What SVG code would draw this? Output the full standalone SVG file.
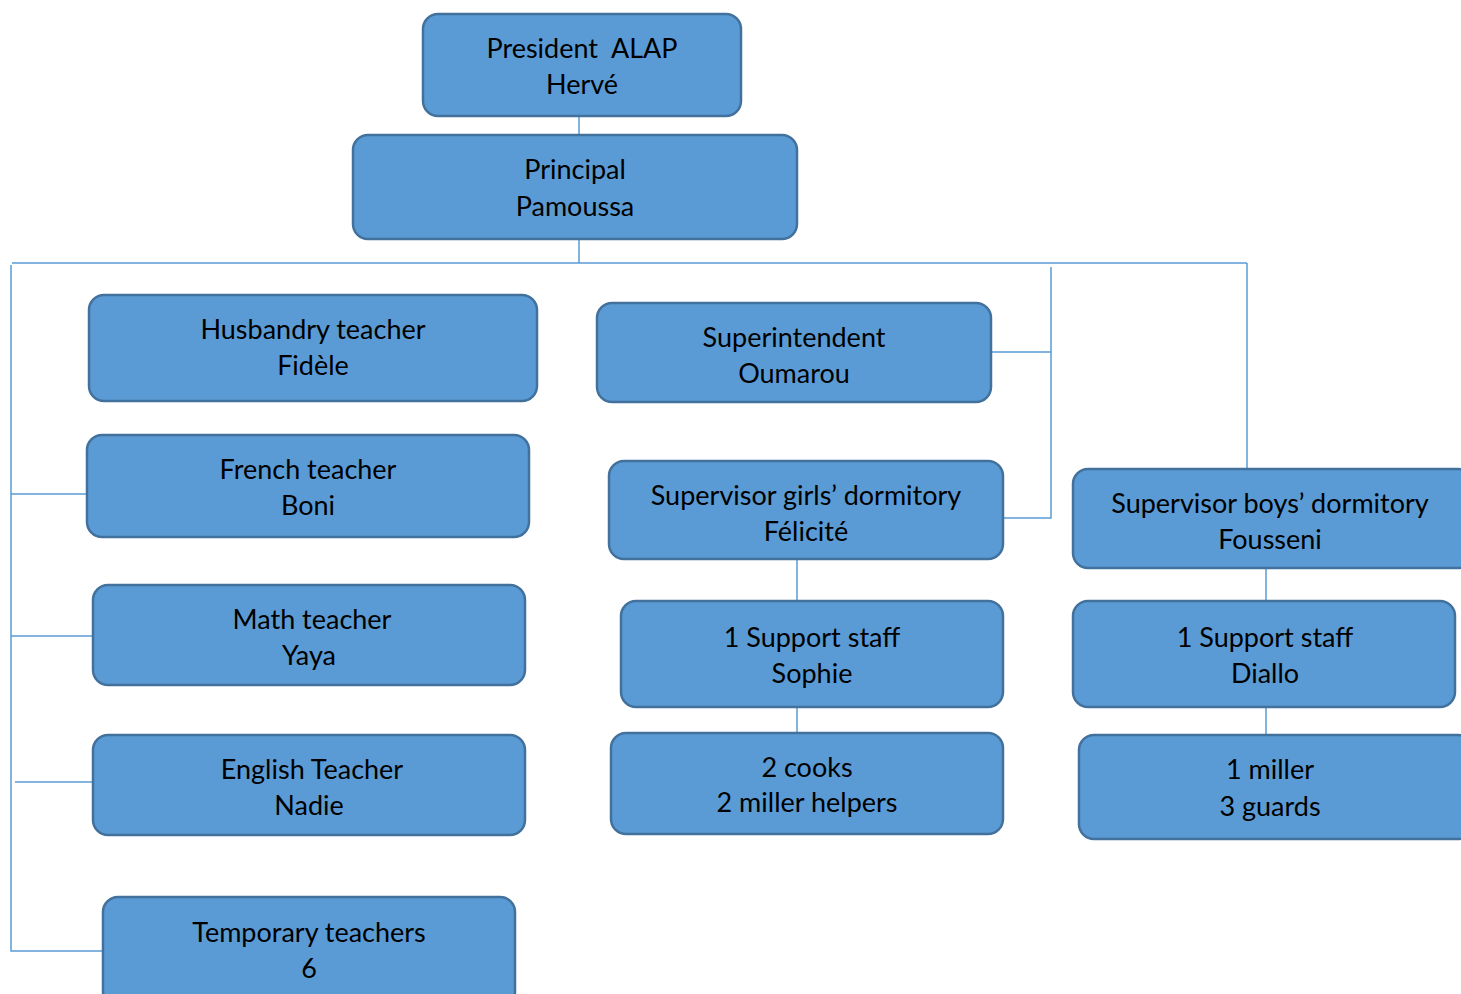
<svg xmlns="http://www.w3.org/2000/svg" width="1461" height="994" viewBox="0 0 1461 994">
<style>
.box{fill:#5B9BD5;stroke:#41719C;stroke-width:2.5}
.t{font-family:Lato,"Open Sans",sans-serif;font-size:27px;fill:#000;text-anchor:middle;dominant-baseline:central;white-space:pre}
.c{fill:none;stroke:#5B9BD5;stroke-width:1.5}
</style>
<rect width="1461" height="994" fill="#fff"/>
<g id="connectors">
<path class="c" d="M579 116V135M579 239V263M12 263H1247M11 265V951H103M11 494H87M11 636H93M15 782H93M991 352H1051M1051 267V518H1003M1247 263V469M797 559V601M797 707V733M1266 568V601M1266 707V735"/>
</g>
<g id="president"><rect class="box" x="423" y="14" width="318" height="102" rx="15"/><text class="t" x="582" y="47" xml:space="preserve">President  ALAP</text><text class="t" x="582" y="83">Hervé</text></g>
<g id="principal"><rect class="box" x="353" y="135" width="444" height="104" rx="15"/><text class="t" x="575" y="168">Principal</text><text class="t" x="575" y="205">Pamoussa</text></g>
<g id="husbandry"><rect class="box" x="89" y="295" width="448" height="106" rx="15"/><text class="t" x="313" y="328">Husbandry teacher</text><text class="t" x="313" y="364">Fidèle</text></g>
<g id="french"><rect class="box" x="87" y="435" width="442" height="102" rx="15"/><text class="t" x="308" y="468">French teacher</text><text class="t" x="308" y="504">Boni</text></g>
<g id="math"><rect class="box" x="93" y="585" width="432" height="100" rx="15"/><text class="t" x="312" y="618">Math teacher</text><text class="t" x="309" y="654">Yaya</text></g>
<g id="english"><rect class="box" x="93" y="735" width="432" height="100" rx="15"/><text class="t" x="312" y="768">English Teacher</text><text class="t" x="309" y="804">Nadie</text></g>
<g id="temporary"><rect class="box" x="103" y="897" width="412" height="110" rx="15"/><text class="t" x="309" y="931">Temporary teachers</text><text class="t" x="309" y="967">6</text></g>
<g id="superintendent"><rect class="box" x="597" y="303" width="394" height="99" rx="15"/><text class="t" x="794" y="336">Superintendent</text><text class="t" x="794" y="372">Oumarou</text></g>
<g id="sup-girls"><rect class="box" x="609" y="461" width="394" height="98" rx="15"/><text class="t" x="806" y="494">Supervisor girls’ dormitory</text><text class="t" x="806" y="530">Félicité</text></g>
<g id="sophie"><rect class="box" x="621" y="601" width="382" height="106" rx="15"/><text class="t" x="812" y="636">1 Support staff</text><text class="t" x="812" y="672">Sophie</text></g>
<g id="cooks"><rect class="box" x="611" y="733" width="392" height="101" rx="15"/><text class="t" x="807" y="766">2 cooks</text><text class="t" x="807" y="801">2 miller helpers</text></g>
<g id="sup-boys"><rect class="box" x="1073" y="469" width="400" height="99" rx="15"/><text class="t" x="1270" y="502">Supervisor boys’ dormitory</text><text class="t" x="1270" y="538">Fousseni</text></g>
<g id="diallo"><rect class="box" x="1073" y="601" width="382" height="106" rx="15"/><text class="t" x="1265" y="636">1 Support staff</text><text class="t" x="1265" y="672">Diallo</text></g>
<g id="miller"><rect class="box" x="1079" y="735" width="394" height="104" rx="15"/><text class="t" x="1270" y="768">1 miller</text><text class="t" x="1270" y="805">3 guards</text></g>
</svg>
